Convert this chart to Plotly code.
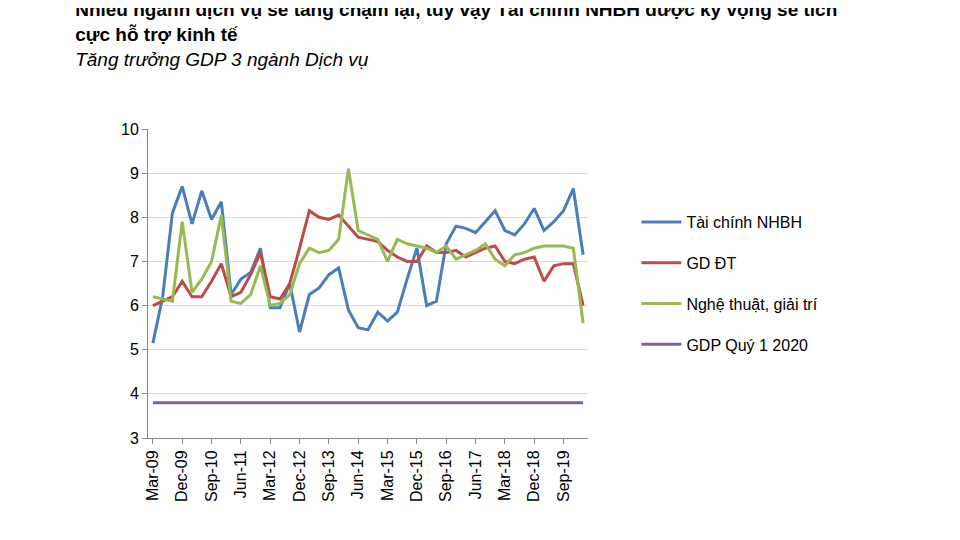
import plotly.graph_objects as go

months = ["Mar", "Jun", "Sep", "Dec"]
quarters = []
for y in range(2009, 2021):
    for m in months:
        quarters.append(f"{m}-{str(y)[2:]}")
quarters = quarters[:45]

tai_chinh = [5.15, 6.2, 8.1, 8.7, 7.85, 8.6, 7.95, 8.35, 6.25, 6.6, 6.75, 7.3, 5.95, 5.95, 6.5,
             5.4, 6.25, 6.4, 6.7, 6.85, 5.9, 5.5, 5.45, 5.85, 5.65, 5.85, 6.6, 7.3, 6.0, 6.1,
             7.4, 7.8, 7.75, 7.65, 7.9, 8.15, 7.7, 7.6, 7.85, 8.2, 7.7, 7.9, 8.15, 8.65, 7.15]
gd_dt = [6.0, 6.1, 6.2, 6.55, 6.2, 6.2, 6.55, 6.95, 6.2, 6.3, 6.7, 7.2, 6.2, 6.15, 6.5,
         7.3, 8.15, 8.0, 7.95, 8.05, 7.8, 7.55, 7.5, 7.45, 7.25, 7.1, 7.0, 7.0, 7.35, 7.2,
         7.2, 7.25, 7.1, 7.2, 7.3, 7.35, 7.0, 6.95, 7.05, 7.1, 6.55, 6.9, 6.95, 6.95, 6.0]
nghe_thuat = [6.2, 6.15, 6.1, 7.9, 6.3, 6.6, 7.0, 8.05, 6.1, 6.05, 6.25, 6.9, 6.0, 6.05, 6.25,
              6.95, 7.3, 7.2, 7.25, 7.5, 9.1, 7.7, 7.6, 7.5, 7.0, 7.5, 7.4, 7.35, 7.3, 7.2,
              7.35, 7.05, 7.15, 7.25, 7.4, 7.05, 6.9, 7.15, 7.2, 7.3, 7.35, 7.35, 7.35, 7.3, 5.6]
gdp_q1 = [3.8] * 45
tick_labels = quarters[::3]

fig = go.Figure()
for i, (name, vals, col) in enumerate([("Tài chính NHBH", tai_chinh, "#4a7ebb"),
                                       ("GD ĐT", gd_dt, "#be4b48"),
                                       ("Nghệ thuật, giải trí", nghe_thuat, "#98b954"),
                                       ("GDP Quý 1 2020", gdp_q1, "#7d60a0")]):
    fig.add_trace(go.Scatter(x=quarters, y=vals, mode="lines", name=name, legendgroup=str(i),
                             line=dict(color=col, width=3)))

fig.update_layout(
    width=960, height=540, plot_bgcolor="white", paper_bgcolor="white",
    font=dict(family="Liberation Sans, Arial", color="black"),
    margin=dict(l=140, r=380, t=121, b=110),
    title=dict(text="<b>Nhiều ngành dịch vụ sẽ tăng chậm lại, tuy vậy Tài chính NHBH được kỳ vọng sẽ tích<br>cực hỗ trợ kinh tế</b><br><i>Tăng trưởng GDP 3 ngành Dịch vụ</i>",
               x=0.07, xanchor="left", y=0.985, yanchor="top", font=dict(size=19)),
    legend=dict(x=1.11, xanchor="left", y=0.5, yanchor="middle", font=dict(size=16),
                tracegroupgap=17, itemwidth=40),
    showlegend=True,
)
fig.update_xaxes(type="category", tickvals=tick_labels, ticktext=tick_labels, tickangle=-90,
                 showline=True, linecolor="#888", ticks="outside", tickcolor="#888",
                 tickfont=dict(size=16), showgrid=False, range=[-0.5, 44.5])
fig.update_yaxes(range=[3, 10], dtick=1, showline=True, linecolor="#888", ticks="outside",
                 tickcolor="#888", gridcolor="#d9d9d9", tickfont=dict(size=16))
fig.write_html("out.html")
